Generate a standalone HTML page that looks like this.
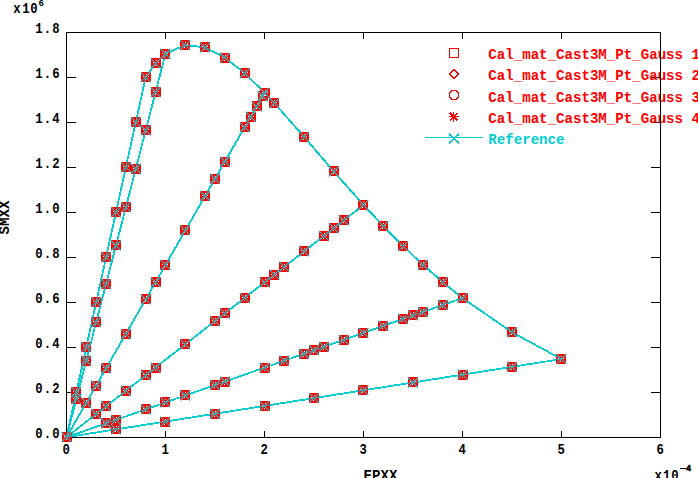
<!DOCTYPE html>
<html><head><meta charset="utf-8"><style>
html,body{margin:0;padding:0;background:#fff;}
body{width:698px;height:478px;overflow:hidden;position:relative;}
svg{position:absolute;left:0;top:0;}
text{font-family:"Liberation Mono",monospace;font-weight:bold;}
</style></head><body>
<svg width="698" height="478" viewBox="0 0 698 478" shape-rendering="crispEdges">

<g stroke="#000" stroke-width="1" fill="none">
<rect x="66.5" y="32.5" width="594" height="405"/>
<line x1="165.5" y1="437.5" x2="165.5" y2="431"/>
<line x1="165.5" y1="32.5" x2="165.5" y2="39"/>
<line x1="264.5" y1="437.5" x2="264.5" y2="431"/>
<line x1="264.5" y1="32.5" x2="264.5" y2="39"/>
<line x1="363.5" y1="437.5" x2="363.5" y2="431"/>
<line x1="363.5" y1="32.5" x2="363.5" y2="39"/>
<line x1="462.5" y1="437.5" x2="462.5" y2="431"/>
<line x1="462.5" y1="32.5" x2="462.5" y2="39"/>
<line x1="561.5" y1="437.5" x2="561.5" y2="431"/>
<line x1="561.5" y1="32.5" x2="561.5" y2="39"/>
<line x1="66.5" y1="392.5" x2="76" y2="392.5"/>
<line x1="660.5" y1="392.5" x2="651" y2="392.5"/>
<line x1="66.5" y1="347.5" x2="76" y2="347.5"/>
<line x1="660.5" y1="347.5" x2="651" y2="347.5"/>
<line x1="66.5" y1="302.5" x2="76" y2="302.5"/>
<line x1="660.5" y1="302.5" x2="651" y2="302.5"/>
<line x1="66.5" y1="257.5" x2="76" y2="257.5"/>
<line x1="660.5" y1="257.5" x2="651" y2="257.5"/>
<line x1="66.5" y1="212.5" x2="76" y2="212.5"/>
<line x1="660.5" y1="212.5" x2="651" y2="212.5"/>
<line x1="66.5" y1="167.5" x2="76" y2="167.5"/>
<line x1="660.5" y1="167.5" x2="651" y2="167.5"/>
<line x1="66.5" y1="122.5" x2="76" y2="122.5"/>
<line x1="660.5" y1="122.5" x2="651" y2="122.5"/>
<line x1="66.5" y1="77.5" x2="76" y2="77.5"/>
<line x1="660.5" y1="77.5" x2="651" y2="77.5"/>
</g>
<g fill="#000" font-size="14.12">
<text transform="scale(0.87 1)" x="44.71 54.48 64.25" y="438.3" text-anchor="middle">0.0</text>
<text transform="scale(0.87 1)" x="44.71 54.48 64.25" y="393.3" text-anchor="middle">0.2</text>
<text transform="scale(0.87 1)" x="44.71 54.48 64.25" y="348.3" text-anchor="middle">0.4</text>
<text transform="scale(0.87 1)" x="44.71 54.48 64.25" y="303.3" text-anchor="middle">0.6</text>
<text transform="scale(0.87 1)" x="44.71 54.48 64.25" y="258.3" text-anchor="middle">0.8</text>
<text transform="scale(0.87 1)" x="44.71 54.48 64.25" y="213.3" text-anchor="middle">1.0</text>
<text transform="scale(0.87 1)" x="44.71 54.48 64.25" y="168.3" text-anchor="middle">1.2</text>
<text transform="scale(0.87 1)" x="44.71 54.48 64.25" y="123.3" text-anchor="middle">1.4</text>
<text transform="scale(0.87 1)" x="44.71 54.48 64.25" y="78.3" text-anchor="middle">1.6</text>
<text transform="scale(0.87 1)" x="44.71 54.48 64.25" y="33.3" text-anchor="middle">1.8</text>
<text transform="scale(0.87 1)" x="76.09" y="453.8" text-anchor="middle">0</text>
<text transform="scale(0.87 1)" x="189.89" y="453.8" text-anchor="middle">1</text>
<text transform="scale(0.87 1)" x="303.68" y="453.8" text-anchor="middle">2</text>
<text transform="scale(0.87 1)" x="417.47" y="453.8" text-anchor="middle">3</text>
<text transform="scale(0.87 1)" x="531.26" y="453.8" text-anchor="middle">4</text>
<text transform="scale(0.87 1)" x="645.06" y="453.8" text-anchor="middle">5</text>
<text transform="scale(0.87 1)" x="758.85" y="453.8" text-anchor="middle">6</text>
<text transform="scale(0.87 1)" x="19.54 29.77 39.08" y="13" text-anchor="middle">x10</text>
<text x="38.5" y="5.5" font-size="9">6</text>
<text transform="scale(0.87 1)" x="756.55 766.44 775.86" y="479.7" text-anchor="middle">x10</text>
<rect x="680" y="468" width="6" height="1.2"/><text x="686" y="470.5" font-size="8.5" stroke="#000" stroke-width="0.5">4</text>
<text x="363.5" y="480">EPXX</text>
<text transform="translate(8.7 234.5) rotate(-90)" x="0" y="0">SMXX</text>
</g>
<g stroke="#00ced1" stroke-width="1.8" fill="none" stroke-linejoin="round">
<polyline points="66.50,437.20 76.40,392.20 86.30,347.20 96.20,302.20 106.10,257.20 116.00,212.20 125.90,167.20 135.80,122.20 145.70,77.20 155.60,63.34 165.50,53.74 185.30,45.08 205.10,47.37 224.90,57.55 244.70,73.24 264.50,92.60 274.40,103.19 304.10,136.92 333.80,171.47 363.50,204.94 383.30,226.09 403.10,246.06 422.90,264.74 442.70,282.07 462.50,298.05 512.00,332.27 561.50,359.05"/>
<line x1="66.5" y1="437.2" x2="165.50" y2="53.74"/>
<line x1="66.5" y1="437.2" x2="264.50" y2="92.60"/>
<line x1="66.5" y1="437.2" x2="363.50" y2="204.94"/>
<line x1="66.5" y1="437.2" x2="462.50" y2="298.05"/>
<line x1="66.5" y1="437.2" x2="561.50" y2="359.05"/>
</g>
<g fill="#ff0000">
<rect x="62" y="432" width="10" height="10"/>
<rect x="71" y="387" width="10" height="10"/>
<rect x="81" y="342" width="10" height="10"/>
<rect x="91" y="297" width="10" height="10"/>
<rect x="101" y="252" width="10" height="10"/>
<rect x="111" y="207" width="10" height="10"/>
<rect x="121" y="162" width="10" height="10"/>
<rect x="131" y="117" width="10" height="10"/>
<rect x="141" y="72" width="10" height="10"/>
<rect x="151" y="58" width="10" height="10"/>
<rect x="160" y="49" width="10" height="10"/>
<rect x="180" y="40" width="10" height="10"/>
<rect x="200" y="42" width="10" height="10"/>
<rect x="220" y="53" width="10" height="10"/>
<rect x="240" y="68" width="10" height="10"/>
<rect x="260" y="88" width="10" height="10"/>
<rect x="269" y="98" width="10" height="10"/>
<rect x="299" y="132" width="10" height="10"/>
<rect x="329" y="166" width="10" height="10"/>
<rect x="358" y="200" width="10" height="10"/>
<rect x="378" y="221" width="10" height="10"/>
<rect x="398" y="241" width="10" height="10"/>
<rect x="418" y="260" width="10" height="10"/>
<rect x="438" y="277" width="10" height="10"/>
<rect x="458" y="293" width="10" height="10"/>
<rect x="507" y="327" width="10" height="10"/>
<rect x="556" y="354" width="10" height="10"/>
<rect x="71" y="394" width="10" height="10"/>
<rect x="81" y="356" width="10" height="10"/>
<rect x="91" y="317" width="10" height="10"/>
<rect x="101" y="279" width="10" height="10"/>
<rect x="111" y="240" width="10" height="10"/>
<rect x="121" y="202" width="10" height="10"/>
<rect x="131" y="164" width="10" height="10"/>
<rect x="141" y="125" width="10" height="10"/>
<rect x="151" y="87" width="10" height="10"/>
<rect x="81" y="398" width="10" height="10"/>
<rect x="91" y="381" width="10" height="10"/>
<rect x="101" y="363" width="10" height="10"/>
<rect x="121" y="329" width="10" height="10"/>
<rect x="141" y="294" width="10" height="10"/>
<rect x="151" y="277" width="10" height="10"/>
<rect x="160" y="260" width="10" height="10"/>
<rect x="180" y="225" width="10" height="10"/>
<rect x="200" y="191" width="10" height="10"/>
<rect x="210" y="174" width="10" height="10"/>
<rect x="220" y="157" width="10" height="10"/>
<rect x="240" y="122" width="10" height="10"/>
<rect x="246" y="112" width="10" height="10"/>
<rect x="252" y="101" width="10" height="10"/>
<rect x="258" y="91" width="10" height="10"/>
<rect x="91" y="409" width="10" height="10"/>
<rect x="101" y="401" width="10" height="10"/>
<rect x="121" y="386" width="10" height="10"/>
<rect x="141" y="370" width="10" height="10"/>
<rect x="151" y="363" width="10" height="10"/>
<rect x="180" y="339" width="10" height="10"/>
<rect x="210" y="316" width="10" height="10"/>
<rect x="220" y="308" width="10" height="10"/>
<rect x="240" y="293" width="10" height="10"/>
<rect x="260" y="277" width="10" height="10"/>
<rect x="269" y="270" width="10" height="10"/>
<rect x="279" y="262" width="10" height="10"/>
<rect x="299" y="246" width="10" height="10"/>
<rect x="319" y="231" width="10" height="10"/>
<rect x="329" y="223" width="10" height="10"/>
<rect x="339" y="215" width="10" height="10"/>
<rect x="101" y="418" width="10" height="10"/>
<rect x="111" y="415" width="10" height="10"/>
<rect x="141" y="404" width="10" height="10"/>
<rect x="160" y="397" width="10" height="10"/>
<rect x="180" y="390" width="10" height="10"/>
<rect x="210" y="380" width="10" height="10"/>
<rect x="220" y="377" width="10" height="10"/>
<rect x="260" y="363" width="10" height="10"/>
<rect x="279" y="356" width="10" height="10"/>
<rect x="299" y="349" width="10" height="10"/>
<rect x="309" y="345" width="10" height="10"/>
<rect x="319" y="342" width="10" height="10"/>
<rect x="339" y="335" width="10" height="10"/>
<rect x="358" y="328" width="10" height="10"/>
<rect x="378" y="321" width="10" height="10"/>
<rect x="398" y="314" width="10" height="10"/>
<rect x="408" y="310" width="10" height="10"/>
<rect x="418" y="307" width="10" height="10"/>
<rect x="438" y="300" width="10" height="10"/>
<rect x="111" y="424" width="10" height="10"/>
<rect x="160" y="417" width="10" height="10"/>
<rect x="210" y="409" width="10" height="10"/>
<rect x="260" y="401" width="10" height="10"/>
<rect x="309" y="393" width="10" height="10"/>
<rect x="358" y="385" width="10" height="10"/>
<rect x="408" y="377" width="10" height="10"/>
<rect x="458" y="370" width="10" height="10"/>
<rect x="507" y="362" width="10" height="10"/>
</g>
<g fill="#fff">
<rect x="64" y="436" width="1" height="1"/>
<rect x="69" y="436" width="1" height="1"/>
<rect x="66" y="439" width="1" height="1"/>
<rect x="67" y="434" width="1" height="1"/>
<rect x="73" y="391" width="1" height="1"/>
<rect x="78" y="391" width="1" height="1"/>
<rect x="75" y="394" width="1" height="1"/>
<rect x="76" y="389" width="1" height="1"/>
<rect x="83" y="346" width="1" height="1"/>
<rect x="88" y="346" width="1" height="1"/>
<rect x="85" y="349" width="1" height="1"/>
<rect x="86" y="344" width="1" height="1"/>
<rect x="93" y="301" width="1" height="1"/>
<rect x="98" y="301" width="1" height="1"/>
<rect x="95" y="304" width="1" height="1"/>
<rect x="96" y="299" width="1" height="1"/>
<rect x="103" y="256" width="1" height="1"/>
<rect x="108" y="256" width="1" height="1"/>
<rect x="105" y="259" width="1" height="1"/>
<rect x="106" y="254" width="1" height="1"/>
<rect x="113" y="211" width="1" height="1"/>
<rect x="118" y="211" width="1" height="1"/>
<rect x="115" y="214" width="1" height="1"/>
<rect x="116" y="209" width="1" height="1"/>
<rect x="123" y="166" width="1" height="1"/>
<rect x="128" y="166" width="1" height="1"/>
<rect x="125" y="169" width="1" height="1"/>
<rect x="126" y="164" width="1" height="1"/>
<rect x="133" y="121" width="1" height="1"/>
<rect x="138" y="121" width="1" height="1"/>
<rect x="135" y="124" width="1" height="1"/>
<rect x="136" y="119" width="1" height="1"/>
<rect x="143" y="76" width="1" height="1"/>
<rect x="148" y="76" width="1" height="1"/>
<rect x="145" y="79" width="1" height="1"/>
<rect x="146" y="74" width="1" height="1"/>
<rect x="153" y="62" width="1" height="1"/>
<rect x="158" y="62" width="1" height="1"/>
<rect x="155" y="65" width="1" height="1"/>
<rect x="156" y="60" width="1" height="1"/>
<rect x="162" y="53" width="1" height="1"/>
<rect x="167" y="53" width="1" height="1"/>
<rect x="164" y="56" width="1" height="1"/>
<rect x="165" y="51" width="1" height="1"/>
<rect x="182" y="44" width="1" height="1"/>
<rect x="187" y="44" width="1" height="1"/>
<rect x="184" y="47" width="1" height="1"/>
<rect x="185" y="42" width="1" height="1"/>
<rect x="202" y="46" width="1" height="1"/>
<rect x="207" y="46" width="1" height="1"/>
<rect x="204" y="49" width="1" height="1"/>
<rect x="205" y="44" width="1" height="1"/>
<rect x="222" y="57" width="1" height="1"/>
<rect x="227" y="57" width="1" height="1"/>
<rect x="224" y="60" width="1" height="1"/>
<rect x="225" y="55" width="1" height="1"/>
<rect x="242" y="72" width="1" height="1"/>
<rect x="247" y="72" width="1" height="1"/>
<rect x="244" y="75" width="1" height="1"/>
<rect x="245" y="70" width="1" height="1"/>
<rect x="262" y="92" width="1" height="1"/>
<rect x="267" y="92" width="1" height="1"/>
<rect x="264" y="95" width="1" height="1"/>
<rect x="265" y="90" width="1" height="1"/>
<rect x="271" y="102" width="1" height="1"/>
<rect x="276" y="102" width="1" height="1"/>
<rect x="273" y="105" width="1" height="1"/>
<rect x="274" y="100" width="1" height="1"/>
<rect x="301" y="136" width="1" height="1"/>
<rect x="306" y="136" width="1" height="1"/>
<rect x="303" y="139" width="1" height="1"/>
<rect x="304" y="134" width="1" height="1"/>
<rect x="331" y="170" width="1" height="1"/>
<rect x="336" y="170" width="1" height="1"/>
<rect x="333" y="173" width="1" height="1"/>
<rect x="334" y="168" width="1" height="1"/>
<rect x="360" y="204" width="1" height="1"/>
<rect x="365" y="204" width="1" height="1"/>
<rect x="362" y="207" width="1" height="1"/>
<rect x="363" y="202" width="1" height="1"/>
<rect x="380" y="225" width="1" height="1"/>
<rect x="385" y="225" width="1" height="1"/>
<rect x="382" y="228" width="1" height="1"/>
<rect x="383" y="223" width="1" height="1"/>
<rect x="400" y="245" width="1" height="1"/>
<rect x="405" y="245" width="1" height="1"/>
<rect x="402" y="248" width="1" height="1"/>
<rect x="403" y="243" width="1" height="1"/>
<rect x="420" y="264" width="1" height="1"/>
<rect x="425" y="264" width="1" height="1"/>
<rect x="422" y="267" width="1" height="1"/>
<rect x="423" y="262" width="1" height="1"/>
<rect x="440" y="281" width="1" height="1"/>
<rect x="445" y="281" width="1" height="1"/>
<rect x="442" y="284" width="1" height="1"/>
<rect x="443" y="279" width="1" height="1"/>
<rect x="460" y="297" width="1" height="1"/>
<rect x="465" y="297" width="1" height="1"/>
<rect x="462" y="300" width="1" height="1"/>
<rect x="463" y="295" width="1" height="1"/>
<rect x="509" y="331" width="1" height="1"/>
<rect x="514" y="331" width="1" height="1"/>
<rect x="511" y="334" width="1" height="1"/>
<rect x="512" y="329" width="1" height="1"/>
<rect x="558" y="358" width="1" height="1"/>
<rect x="563" y="358" width="1" height="1"/>
<rect x="560" y="361" width="1" height="1"/>
<rect x="561" y="356" width="1" height="1"/>
<rect x="73" y="398" width="1" height="1"/>
<rect x="78" y="398" width="1" height="1"/>
<rect x="75" y="401" width="1" height="1"/>
<rect x="76" y="396" width="1" height="1"/>
<rect x="83" y="360" width="1" height="1"/>
<rect x="88" y="360" width="1" height="1"/>
<rect x="85" y="363" width="1" height="1"/>
<rect x="86" y="358" width="1" height="1"/>
<rect x="93" y="321" width="1" height="1"/>
<rect x="98" y="321" width="1" height="1"/>
<rect x="95" y="324" width="1" height="1"/>
<rect x="96" y="319" width="1" height="1"/>
<rect x="103" y="283" width="1" height="1"/>
<rect x="108" y="283" width="1" height="1"/>
<rect x="105" y="286" width="1" height="1"/>
<rect x="106" y="281" width="1" height="1"/>
<rect x="113" y="244" width="1" height="1"/>
<rect x="118" y="244" width="1" height="1"/>
<rect x="115" y="247" width="1" height="1"/>
<rect x="116" y="242" width="1" height="1"/>
<rect x="123" y="206" width="1" height="1"/>
<rect x="128" y="206" width="1" height="1"/>
<rect x="125" y="209" width="1" height="1"/>
<rect x="126" y="204" width="1" height="1"/>
<rect x="133" y="168" width="1" height="1"/>
<rect x="138" y="168" width="1" height="1"/>
<rect x="135" y="171" width="1" height="1"/>
<rect x="136" y="166" width="1" height="1"/>
<rect x="143" y="129" width="1" height="1"/>
<rect x="148" y="129" width="1" height="1"/>
<rect x="145" y="132" width="1" height="1"/>
<rect x="146" y="127" width="1" height="1"/>
<rect x="153" y="91" width="1" height="1"/>
<rect x="158" y="91" width="1" height="1"/>
<rect x="155" y="94" width="1" height="1"/>
<rect x="156" y="89" width="1" height="1"/>
<rect x="83" y="402" width="1" height="1"/>
<rect x="88" y="402" width="1" height="1"/>
<rect x="85" y="405" width="1" height="1"/>
<rect x="86" y="400" width="1" height="1"/>
<rect x="93" y="385" width="1" height="1"/>
<rect x="98" y="385" width="1" height="1"/>
<rect x="95" y="388" width="1" height="1"/>
<rect x="96" y="383" width="1" height="1"/>
<rect x="103" y="367" width="1" height="1"/>
<rect x="108" y="367" width="1" height="1"/>
<rect x="105" y="370" width="1" height="1"/>
<rect x="106" y="365" width="1" height="1"/>
<rect x="123" y="333" width="1" height="1"/>
<rect x="128" y="333" width="1" height="1"/>
<rect x="125" y="336" width="1" height="1"/>
<rect x="126" y="331" width="1" height="1"/>
<rect x="143" y="298" width="1" height="1"/>
<rect x="148" y="298" width="1" height="1"/>
<rect x="145" y="301" width="1" height="1"/>
<rect x="146" y="296" width="1" height="1"/>
<rect x="153" y="281" width="1" height="1"/>
<rect x="158" y="281" width="1" height="1"/>
<rect x="155" y="284" width="1" height="1"/>
<rect x="156" y="279" width="1" height="1"/>
<rect x="162" y="264" width="1" height="1"/>
<rect x="167" y="264" width="1" height="1"/>
<rect x="164" y="267" width="1" height="1"/>
<rect x="165" y="262" width="1" height="1"/>
<rect x="182" y="229" width="1" height="1"/>
<rect x="187" y="229" width="1" height="1"/>
<rect x="184" y="232" width="1" height="1"/>
<rect x="185" y="227" width="1" height="1"/>
<rect x="202" y="195" width="1" height="1"/>
<rect x="207" y="195" width="1" height="1"/>
<rect x="204" y="198" width="1" height="1"/>
<rect x="205" y="193" width="1" height="1"/>
<rect x="212" y="178" width="1" height="1"/>
<rect x="217" y="178" width="1" height="1"/>
<rect x="214" y="181" width="1" height="1"/>
<rect x="215" y="176" width="1" height="1"/>
<rect x="222" y="161" width="1" height="1"/>
<rect x="227" y="161" width="1" height="1"/>
<rect x="224" y="164" width="1" height="1"/>
<rect x="225" y="159" width="1" height="1"/>
<rect x="242" y="126" width="1" height="1"/>
<rect x="247" y="126" width="1" height="1"/>
<rect x="244" y="129" width="1" height="1"/>
<rect x="245" y="124" width="1" height="1"/>
<rect x="248" y="116" width="1" height="1"/>
<rect x="253" y="116" width="1" height="1"/>
<rect x="250" y="119" width="1" height="1"/>
<rect x="251" y="114" width="1" height="1"/>
<rect x="254" y="105" width="1" height="1"/>
<rect x="259" y="105" width="1" height="1"/>
<rect x="256" y="108" width="1" height="1"/>
<rect x="257" y="103" width="1" height="1"/>
<rect x="260" y="95" width="1" height="1"/>
<rect x="265" y="95" width="1" height="1"/>
<rect x="262" y="98" width="1" height="1"/>
<rect x="263" y="93" width="1" height="1"/>
<rect x="93" y="413" width="1" height="1"/>
<rect x="98" y="413" width="1" height="1"/>
<rect x="95" y="416" width="1" height="1"/>
<rect x="96" y="411" width="1" height="1"/>
<rect x="103" y="405" width="1" height="1"/>
<rect x="108" y="405" width="1" height="1"/>
<rect x="105" y="408" width="1" height="1"/>
<rect x="106" y="403" width="1" height="1"/>
<rect x="123" y="390" width="1" height="1"/>
<rect x="128" y="390" width="1" height="1"/>
<rect x="125" y="393" width="1" height="1"/>
<rect x="126" y="388" width="1" height="1"/>
<rect x="143" y="374" width="1" height="1"/>
<rect x="148" y="374" width="1" height="1"/>
<rect x="145" y="377" width="1" height="1"/>
<rect x="146" y="372" width="1" height="1"/>
<rect x="153" y="367" width="1" height="1"/>
<rect x="158" y="367" width="1" height="1"/>
<rect x="155" y="370" width="1" height="1"/>
<rect x="156" y="365" width="1" height="1"/>
<rect x="182" y="343" width="1" height="1"/>
<rect x="187" y="343" width="1" height="1"/>
<rect x="184" y="346" width="1" height="1"/>
<rect x="185" y="341" width="1" height="1"/>
<rect x="212" y="320" width="1" height="1"/>
<rect x="217" y="320" width="1" height="1"/>
<rect x="214" y="323" width="1" height="1"/>
<rect x="215" y="318" width="1" height="1"/>
<rect x="222" y="312" width="1" height="1"/>
<rect x="227" y="312" width="1" height="1"/>
<rect x="224" y="315" width="1" height="1"/>
<rect x="225" y="310" width="1" height="1"/>
<rect x="242" y="297" width="1" height="1"/>
<rect x="247" y="297" width="1" height="1"/>
<rect x="244" y="300" width="1" height="1"/>
<rect x="245" y="295" width="1" height="1"/>
<rect x="262" y="281" width="1" height="1"/>
<rect x="267" y="281" width="1" height="1"/>
<rect x="264" y="284" width="1" height="1"/>
<rect x="265" y="279" width="1" height="1"/>
<rect x="271" y="274" width="1" height="1"/>
<rect x="276" y="274" width="1" height="1"/>
<rect x="273" y="277" width="1" height="1"/>
<rect x="274" y="272" width="1" height="1"/>
<rect x="281" y="266" width="1" height="1"/>
<rect x="286" y="266" width="1" height="1"/>
<rect x="283" y="269" width="1" height="1"/>
<rect x="284" y="264" width="1" height="1"/>
<rect x="301" y="250" width="1" height="1"/>
<rect x="306" y="250" width="1" height="1"/>
<rect x="303" y="253" width="1" height="1"/>
<rect x="304" y="248" width="1" height="1"/>
<rect x="321" y="235" width="1" height="1"/>
<rect x="326" y="235" width="1" height="1"/>
<rect x="323" y="238" width="1" height="1"/>
<rect x="324" y="233" width="1" height="1"/>
<rect x="331" y="227" width="1" height="1"/>
<rect x="336" y="227" width="1" height="1"/>
<rect x="333" y="230" width="1" height="1"/>
<rect x="334" y="225" width="1" height="1"/>
<rect x="341" y="219" width="1" height="1"/>
<rect x="346" y="219" width="1" height="1"/>
<rect x="343" y="222" width="1" height="1"/>
<rect x="344" y="217" width="1" height="1"/>
<rect x="103" y="422" width="1" height="1"/>
<rect x="108" y="422" width="1" height="1"/>
<rect x="105" y="425" width="1" height="1"/>
<rect x="106" y="420" width="1" height="1"/>
<rect x="113" y="419" width="1" height="1"/>
<rect x="118" y="419" width="1" height="1"/>
<rect x="115" y="422" width="1" height="1"/>
<rect x="116" y="417" width="1" height="1"/>
<rect x="143" y="408" width="1" height="1"/>
<rect x="148" y="408" width="1" height="1"/>
<rect x="145" y="411" width="1" height="1"/>
<rect x="146" y="406" width="1" height="1"/>
<rect x="162" y="401" width="1" height="1"/>
<rect x="167" y="401" width="1" height="1"/>
<rect x="164" y="404" width="1" height="1"/>
<rect x="165" y="399" width="1" height="1"/>
<rect x="182" y="394" width="1" height="1"/>
<rect x="187" y="394" width="1" height="1"/>
<rect x="184" y="397" width="1" height="1"/>
<rect x="185" y="392" width="1" height="1"/>
<rect x="212" y="384" width="1" height="1"/>
<rect x="217" y="384" width="1" height="1"/>
<rect x="214" y="387" width="1" height="1"/>
<rect x="215" y="382" width="1" height="1"/>
<rect x="222" y="381" width="1" height="1"/>
<rect x="227" y="381" width="1" height="1"/>
<rect x="224" y="384" width="1" height="1"/>
<rect x="225" y="379" width="1" height="1"/>
<rect x="262" y="367" width="1" height="1"/>
<rect x="267" y="367" width="1" height="1"/>
<rect x="264" y="370" width="1" height="1"/>
<rect x="265" y="365" width="1" height="1"/>
<rect x="281" y="360" width="1" height="1"/>
<rect x="286" y="360" width="1" height="1"/>
<rect x="283" y="363" width="1" height="1"/>
<rect x="284" y="358" width="1" height="1"/>
<rect x="301" y="353" width="1" height="1"/>
<rect x="306" y="353" width="1" height="1"/>
<rect x="303" y="356" width="1" height="1"/>
<rect x="304" y="351" width="1" height="1"/>
<rect x="311" y="349" width="1" height="1"/>
<rect x="316" y="349" width="1" height="1"/>
<rect x="313" y="352" width="1" height="1"/>
<rect x="314" y="347" width="1" height="1"/>
<rect x="321" y="346" width="1" height="1"/>
<rect x="326" y="346" width="1" height="1"/>
<rect x="323" y="349" width="1" height="1"/>
<rect x="324" y="344" width="1" height="1"/>
<rect x="341" y="339" width="1" height="1"/>
<rect x="346" y="339" width="1" height="1"/>
<rect x="343" y="342" width="1" height="1"/>
<rect x="344" y="337" width="1" height="1"/>
<rect x="360" y="332" width="1" height="1"/>
<rect x="365" y="332" width="1" height="1"/>
<rect x="362" y="335" width="1" height="1"/>
<rect x="363" y="330" width="1" height="1"/>
<rect x="380" y="325" width="1" height="1"/>
<rect x="385" y="325" width="1" height="1"/>
<rect x="382" y="328" width="1" height="1"/>
<rect x="383" y="323" width="1" height="1"/>
<rect x="400" y="318" width="1" height="1"/>
<rect x="405" y="318" width="1" height="1"/>
<rect x="402" y="321" width="1" height="1"/>
<rect x="403" y="316" width="1" height="1"/>
<rect x="410" y="314" width="1" height="1"/>
<rect x="415" y="314" width="1" height="1"/>
<rect x="412" y="317" width="1" height="1"/>
<rect x="413" y="312" width="1" height="1"/>
<rect x="420" y="311" width="1" height="1"/>
<rect x="425" y="311" width="1" height="1"/>
<rect x="422" y="314" width="1" height="1"/>
<rect x="423" y="309" width="1" height="1"/>
<rect x="440" y="304" width="1" height="1"/>
<rect x="445" y="304" width="1" height="1"/>
<rect x="442" y="307" width="1" height="1"/>
<rect x="443" y="302" width="1" height="1"/>
<rect x="113" y="428" width="1" height="1"/>
<rect x="118" y="428" width="1" height="1"/>
<rect x="115" y="431" width="1" height="1"/>
<rect x="116" y="426" width="1" height="1"/>
<rect x="162" y="421" width="1" height="1"/>
<rect x="167" y="421" width="1" height="1"/>
<rect x="164" y="424" width="1" height="1"/>
<rect x="165" y="419" width="1" height="1"/>
<rect x="212" y="413" width="1" height="1"/>
<rect x="217" y="413" width="1" height="1"/>
<rect x="214" y="416" width="1" height="1"/>
<rect x="215" y="411" width="1" height="1"/>
<rect x="262" y="405" width="1" height="1"/>
<rect x="267" y="405" width="1" height="1"/>
<rect x="264" y="408" width="1" height="1"/>
<rect x="265" y="403" width="1" height="1"/>
<rect x="311" y="397" width="1" height="1"/>
<rect x="316" y="397" width="1" height="1"/>
<rect x="313" y="400" width="1" height="1"/>
<rect x="314" y="395" width="1" height="1"/>
<rect x="360" y="389" width="1" height="1"/>
<rect x="365" y="389" width="1" height="1"/>
<rect x="362" y="392" width="1" height="1"/>
<rect x="363" y="387" width="1" height="1"/>
<rect x="410" y="381" width="1" height="1"/>
<rect x="415" y="381" width="1" height="1"/>
<rect x="412" y="384" width="1" height="1"/>
<rect x="413" y="379" width="1" height="1"/>
<rect x="460" y="374" width="1" height="1"/>
<rect x="465" y="374" width="1" height="1"/>
<rect x="462" y="377" width="1" height="1"/>
<rect x="463" y="372" width="1" height="1"/>
<rect x="509" y="366" width="1" height="1"/>
<rect x="514" y="366" width="1" height="1"/>
<rect x="511" y="369" width="1" height="1"/>
<rect x="512" y="364" width="1" height="1"/>
</g>
<clipPath id="mk">
<rect x="62" y="432" width="10" height="10"/>
<rect x="71" y="387" width="10" height="10"/>
<rect x="81" y="342" width="10" height="10"/>
<rect x="91" y="297" width="10" height="10"/>
<rect x="101" y="252" width="10" height="10"/>
<rect x="111" y="207" width="10" height="10"/>
<rect x="121" y="162" width="10" height="10"/>
<rect x="131" y="117" width="10" height="10"/>
<rect x="141" y="72" width="10" height="10"/>
<rect x="151" y="58" width="10" height="10"/>
<rect x="160" y="49" width="10" height="10"/>
<rect x="180" y="40" width="10" height="10"/>
<rect x="200" y="42" width="10" height="10"/>
<rect x="220" y="53" width="10" height="10"/>
<rect x="240" y="68" width="10" height="10"/>
<rect x="260" y="88" width="10" height="10"/>
<rect x="269" y="98" width="10" height="10"/>
<rect x="299" y="132" width="10" height="10"/>
<rect x="329" y="166" width="10" height="10"/>
<rect x="358" y="200" width="10" height="10"/>
<rect x="378" y="221" width="10" height="10"/>
<rect x="398" y="241" width="10" height="10"/>
<rect x="418" y="260" width="10" height="10"/>
<rect x="438" y="277" width="10" height="10"/>
<rect x="458" y="293" width="10" height="10"/>
<rect x="507" y="327" width="10" height="10"/>
<rect x="556" y="354" width="10" height="10"/>
<rect x="71" y="394" width="10" height="10"/>
<rect x="81" y="356" width="10" height="10"/>
<rect x="91" y="317" width="10" height="10"/>
<rect x="101" y="279" width="10" height="10"/>
<rect x="111" y="240" width="10" height="10"/>
<rect x="121" y="202" width="10" height="10"/>
<rect x="131" y="164" width="10" height="10"/>
<rect x="141" y="125" width="10" height="10"/>
<rect x="151" y="87" width="10" height="10"/>
<rect x="81" y="398" width="10" height="10"/>
<rect x="91" y="381" width="10" height="10"/>
<rect x="101" y="363" width="10" height="10"/>
<rect x="121" y="329" width="10" height="10"/>
<rect x="141" y="294" width="10" height="10"/>
<rect x="151" y="277" width="10" height="10"/>
<rect x="160" y="260" width="10" height="10"/>
<rect x="180" y="225" width="10" height="10"/>
<rect x="200" y="191" width="10" height="10"/>
<rect x="210" y="174" width="10" height="10"/>
<rect x="220" y="157" width="10" height="10"/>
<rect x="240" y="122" width="10" height="10"/>
<rect x="246" y="112" width="10" height="10"/>
<rect x="252" y="101" width="10" height="10"/>
<rect x="258" y="91" width="10" height="10"/>
<rect x="91" y="409" width="10" height="10"/>
<rect x="101" y="401" width="10" height="10"/>
<rect x="121" y="386" width="10" height="10"/>
<rect x="141" y="370" width="10" height="10"/>
<rect x="151" y="363" width="10" height="10"/>
<rect x="180" y="339" width="10" height="10"/>
<rect x="210" y="316" width="10" height="10"/>
<rect x="220" y="308" width="10" height="10"/>
<rect x="240" y="293" width="10" height="10"/>
<rect x="260" y="277" width="10" height="10"/>
<rect x="269" y="270" width="10" height="10"/>
<rect x="279" y="262" width="10" height="10"/>
<rect x="299" y="246" width="10" height="10"/>
<rect x="319" y="231" width="10" height="10"/>
<rect x="329" y="223" width="10" height="10"/>
<rect x="339" y="215" width="10" height="10"/>
<rect x="101" y="418" width="10" height="10"/>
<rect x="111" y="415" width="10" height="10"/>
<rect x="141" y="404" width="10" height="10"/>
<rect x="160" y="397" width="10" height="10"/>
<rect x="180" y="390" width="10" height="10"/>
<rect x="210" y="380" width="10" height="10"/>
<rect x="220" y="377" width="10" height="10"/>
<rect x="260" y="363" width="10" height="10"/>
<rect x="279" y="356" width="10" height="10"/>
<rect x="299" y="349" width="10" height="10"/>
<rect x="309" y="345" width="10" height="10"/>
<rect x="319" y="342" width="10" height="10"/>
<rect x="339" y="335" width="10" height="10"/>
<rect x="358" y="328" width="10" height="10"/>
<rect x="378" y="321" width="10" height="10"/>
<rect x="398" y="314" width="10" height="10"/>
<rect x="408" y="310" width="10" height="10"/>
<rect x="418" y="307" width="10" height="10"/>
<rect x="438" y="300" width="10" height="10"/>
<rect x="111" y="424" width="10" height="10"/>
<rect x="160" y="417" width="10" height="10"/>
<rect x="210" y="409" width="10" height="10"/>
<rect x="260" y="401" width="10" height="10"/>
<rect x="309" y="393" width="10" height="10"/>
<rect x="358" y="385" width="10" height="10"/>
<rect x="408" y="377" width="10" height="10"/>
<rect x="458" y="370" width="10" height="10"/>
<rect x="507" y="362" width="10" height="10"/>
</clipPath>
<g stroke="#38b0b5" stroke-width="1.0" fill="none" stroke-linejoin="round" clip-path="url(#mk)" shape-rendering="auto">
<polyline points="66.50,437.20 76.40,392.20 86.30,347.20 96.20,302.20 106.10,257.20 116.00,212.20 125.90,167.20 135.80,122.20 145.70,77.20 155.60,63.34 165.50,53.74 185.30,45.08 205.10,47.37 224.90,57.55 244.70,73.24 264.50,92.60 274.40,103.19 304.10,136.92 333.80,171.47 363.50,204.94 383.30,226.09 403.10,246.06 422.90,264.74 442.70,282.07 462.50,298.05 512.00,332.27 561.50,359.05"/>
<line x1="66.5" y1="437.2" x2="165.50" y2="53.74"/>
<line x1="66.5" y1="437.2" x2="264.50" y2="92.60"/>
<line x1="66.5" y1="437.2" x2="363.50" y2="204.94"/>
<line x1="66.5" y1="437.2" x2="462.50" y2="298.05"/>
<line x1="66.5" y1="437.2" x2="561.50" y2="359.05"/>
</g>
<g stroke="#38b0b5" stroke-width="1.2" fill="none" shape-rendering="auto">
<path d="M61.50,432.20L71.50,442.20M71.50,432.20L61.50,442.20"/>
<path d="M71.40,387.20L81.40,397.20M81.40,387.20L71.40,397.20"/>
<path d="M81.30,342.20L91.30,352.20M91.30,342.20L81.30,352.20"/>
<path d="M91.20,297.20L101.20,307.20M101.20,297.20L91.20,307.20"/>
<path d="M101.10,252.20L111.10,262.20M111.10,252.20L101.10,262.20"/>
<path d="M111.00,207.20L121.00,217.20M121.00,207.20L111.00,217.20"/>
<path d="M120.90,162.20L130.90,172.20M130.90,162.20L120.90,172.20"/>
<path d="M130.80,117.20L140.80,127.20M140.80,117.20L130.80,127.20"/>
<path d="M140.70,72.20L150.70,82.20M150.70,72.20L140.70,82.20"/>
<path d="M150.60,58.34L160.60,68.34M160.60,58.34L150.60,68.34"/>
<path d="M160.50,48.74L170.50,58.74M170.50,48.74L160.50,58.74"/>
<path d="M180.30,40.08L190.30,50.08M190.30,40.08L180.30,50.08"/>
<path d="M200.10,42.37L210.10,52.37M210.10,42.37L200.10,52.37"/>
<path d="M219.90,52.55L229.90,62.55M229.90,52.55L219.90,62.55"/>
<path d="M239.70,68.24L249.70,78.24M249.70,68.24L239.70,78.24"/>
<path d="M259.50,87.60L269.50,97.60M269.50,87.60L259.50,97.60"/>
<path d="M269.40,98.19L279.40,108.19M279.40,98.19L269.40,108.19"/>
<path d="M299.10,131.92L309.10,141.92M309.10,131.92L299.10,141.92"/>
<path d="M328.80,166.47L338.80,176.47M338.80,166.47L328.80,176.47"/>
<path d="M358.50,199.94L368.50,209.94M368.50,199.94L358.50,209.94"/>
<path d="M378.30,221.09L388.30,231.09M388.30,221.09L378.30,231.09"/>
<path d="M398.10,241.06L408.10,251.06M408.10,241.06L398.10,251.06"/>
<path d="M417.90,259.74L427.90,269.74M427.90,259.74L417.90,269.74"/>
<path d="M437.70,277.07L447.70,287.07M447.70,277.07L437.70,287.07"/>
<path d="M457.50,293.05L467.50,303.05M467.50,293.05L457.50,303.05"/>
<path d="M507.00,327.27L517.00,337.27M517.00,327.27L507.00,337.27"/>
<path d="M556.50,354.05L566.50,364.05M566.50,354.05L556.50,364.05"/>
<path d="M71.40,393.85L81.40,403.85M81.40,393.85L71.40,403.85"/>
<path d="M81.30,355.51L91.30,365.51M91.30,355.51L81.30,365.51"/>
<path d="M91.20,317.16L101.20,327.16M101.20,317.16L91.20,327.16"/>
<path d="M101.10,278.81L111.10,288.81M111.10,278.81L101.10,288.81"/>
<path d="M111.00,240.47L121.00,250.47M121.00,240.47L111.00,250.47"/>
<path d="M120.90,202.12L130.90,212.12M130.90,202.12L120.90,212.12"/>
<path d="M130.80,163.77L140.80,173.77M140.80,163.77L130.80,173.77"/>
<path d="M140.70,125.43L150.70,135.43M150.70,125.43L140.70,135.43"/>
<path d="M150.60,87.08L160.60,97.08M160.60,87.08L150.60,97.08"/>
<path d="M81.30,397.74L91.30,407.74M91.30,397.74L81.30,407.74"/>
<path d="M91.20,380.51L101.20,390.51M101.20,380.51L91.20,390.51"/>
<path d="M101.10,363.28L111.10,373.28M111.10,363.28L101.10,373.28"/>
<path d="M120.90,328.82L130.90,338.82M130.90,328.82L120.90,338.82"/>
<path d="M140.70,294.36L150.70,304.36M150.70,294.36L140.70,304.36"/>
<path d="M150.60,277.13L160.60,287.13M160.60,277.13L150.60,287.13"/>
<path d="M160.50,259.90L170.50,269.90M170.50,259.90L160.50,269.90"/>
<path d="M180.30,225.44L190.30,235.44M190.30,225.44L180.30,235.44"/>
<path d="M200.10,190.98L210.10,200.98M210.10,190.98L200.10,200.98"/>
<path d="M210.00,173.75L220.00,183.75M220.00,173.75L210.00,183.75"/>
<path d="M219.90,156.52L229.90,166.52M229.90,156.52L219.90,166.52"/>
<path d="M239.70,122.06L249.70,132.06M249.70,122.06L239.70,132.06"/>
<path d="M245.64,111.72L255.64,121.72M255.64,111.72L245.64,121.72"/>
<path d="M251.58,101.38L261.58,111.38M261.58,101.38L251.58,111.38"/>
<path d="M257.52,91.04L267.52,101.04M267.52,91.04L257.52,101.04"/>
<path d="M91.20,408.97L101.20,418.97M101.20,408.97L91.20,418.97"/>
<path d="M101.10,401.23L111.10,411.23M111.10,401.23L101.10,411.23"/>
<path d="M120.90,385.75L130.90,395.75M130.90,385.75L120.90,395.75"/>
<path d="M140.70,370.26L150.70,380.26M150.70,370.26L140.70,380.26"/>
<path d="M150.60,362.52L160.60,372.52M160.60,362.52L150.60,372.52"/>
<path d="M180.30,339.30L190.30,349.30M190.30,339.30L180.30,349.30"/>
<path d="M210.00,316.07L220.00,326.07M220.00,316.07L210.00,326.07"/>
<path d="M219.90,308.33L229.90,318.33M229.90,308.33L219.90,318.33"/>
<path d="M239.70,292.84L249.70,302.84M249.70,292.84L239.70,302.84"/>
<path d="M259.50,277.36L269.50,287.36M269.50,277.36L259.50,287.36"/>
<path d="M269.40,269.62L279.40,279.62M279.40,269.62L269.40,279.62"/>
<path d="M279.30,261.88L289.30,271.88M289.30,261.88L279.30,271.88"/>
<path d="M299.10,246.39L309.10,256.39M309.10,246.39L299.10,256.39"/>
<path d="M318.90,230.91L328.90,240.91M328.90,230.91L318.90,240.91"/>
<path d="M328.80,223.17L338.80,233.17M338.80,223.17L328.80,233.17"/>
<path d="M338.70,215.42L348.70,225.42M348.70,215.42L338.70,225.42"/>
<path d="M101.10,418.29L111.10,428.29M111.10,418.29L101.10,428.29"/>
<path d="M111.00,414.81L121.00,424.81M121.00,414.81L111.00,424.81"/>
<path d="M140.70,404.37L150.70,414.37M150.70,404.37L140.70,414.37"/>
<path d="M160.50,397.41L170.50,407.41M170.50,397.41L160.50,407.41"/>
<path d="M180.30,390.46L190.30,400.46M190.30,390.46L180.30,400.46"/>
<path d="M210.00,380.02L220.00,390.02M220.00,380.02L210.00,390.02"/>
<path d="M219.90,376.54L229.90,386.54M229.90,376.54L219.90,386.54"/>
<path d="M259.50,362.63L269.50,372.63M269.50,362.63L259.50,372.63"/>
<path d="M279.30,355.67L289.30,365.67M289.30,355.67L279.30,365.67"/>
<path d="M299.10,348.71L309.10,358.71M309.10,348.71L299.10,358.71"/>
<path d="M309.00,345.23L319.00,355.23M319.00,345.23L309.00,355.23"/>
<path d="M318.90,341.75L328.90,351.75M328.90,341.75L318.90,351.75"/>
<path d="M338.70,334.80L348.70,344.80M348.70,334.80L338.70,344.80"/>
<path d="M358.50,327.84L368.50,337.84M368.50,327.84L358.50,337.84"/>
<path d="M378.30,320.88L388.30,330.88M388.30,320.88L378.30,330.88"/>
<path d="M398.10,313.92L408.10,323.92M408.10,313.92L398.10,323.92"/>
<path d="M408.00,310.45L418.00,320.45M418.00,310.45L408.00,320.45"/>
<path d="M417.90,306.97L427.90,316.97M427.90,306.97L417.90,316.97"/>
<path d="M437.70,300.01L447.70,310.01M447.70,300.01L437.70,310.01"/>
<path d="M111.00,424.38L121.00,434.38M121.00,424.38L111.00,434.38"/>
<path d="M160.50,416.57L170.50,426.57M170.50,416.57L160.50,426.57"/>
<path d="M210.00,408.75L220.00,418.75M220.00,408.75L210.00,418.75"/>
<path d="M259.50,400.94L269.50,410.94M269.50,400.94L259.50,410.94"/>
<path d="M309.00,393.12L319.00,403.12M319.00,393.12L309.00,403.12"/>
<path d="M358.50,385.31L368.50,395.31M368.50,385.31L358.50,395.31"/>
<path d="M408.00,377.49L418.00,387.49M418.00,377.49L408.00,387.49"/>
<path d="M457.50,369.68L467.50,379.68M467.50,369.68L457.50,379.68"/>
<path d="M507.00,361.86L517.00,371.86M517.00,361.86L507.00,371.86"/>
</g>
<g stroke="#ff0000" fill="none">
<rect x="449.5" y="48.5" width="9" height="9" stroke-width="1"/>
<path d="M454,69.5 L458.5,74 L454,78.5 L449.5,74 Z" stroke-width="1.8"/>
<circle cx="454" cy="95" r="4.6" stroke-width="1.3"/>
<path d="M453.5,111.5 V122 M449,116.5 H459" stroke-width="1.1"/>
<path d="M450,113 L457.5,120.5 M457.5,113 L450,120.5" stroke-width="1.5"/>
<rect x="452" y="115" width="4" height="4" fill="#ff0000" stroke="none"/>
</g>
<g stroke="#00ced1" fill="none">
<line x1="425" y1="137.5" x2="483" y2="137.5" stroke-width="1.2"/>
<path d="M449,134 L459,143 M459,134 L449,143" stroke-width="1.6"/>
</g>
<g fill="#ff0000" font-size="14.12">
<text x="488.3" y="58.8">Cal_mat_Cast3M_Pt_Gauss 1</text>
<text x="488.3" y="80.2">Cal_mat_Cast3M_Pt_Gauss 2</text>
<text x="488.3" y="101.6">Cal_mat_Cast3M_Pt_Gauss 3</text>
<text x="488.3" y="123.0">Cal_mat_Cast3M_Pt_Gauss 4</text>
</g>
<text x="488.3" y="143.8" fill="#00ced1" font-size="14.12">Reference</text>
<line x1="660.5" y1="32.5" x2="660.5" y2="437.5" stroke="#000" stroke-width="1"/>
</svg></body></html>
